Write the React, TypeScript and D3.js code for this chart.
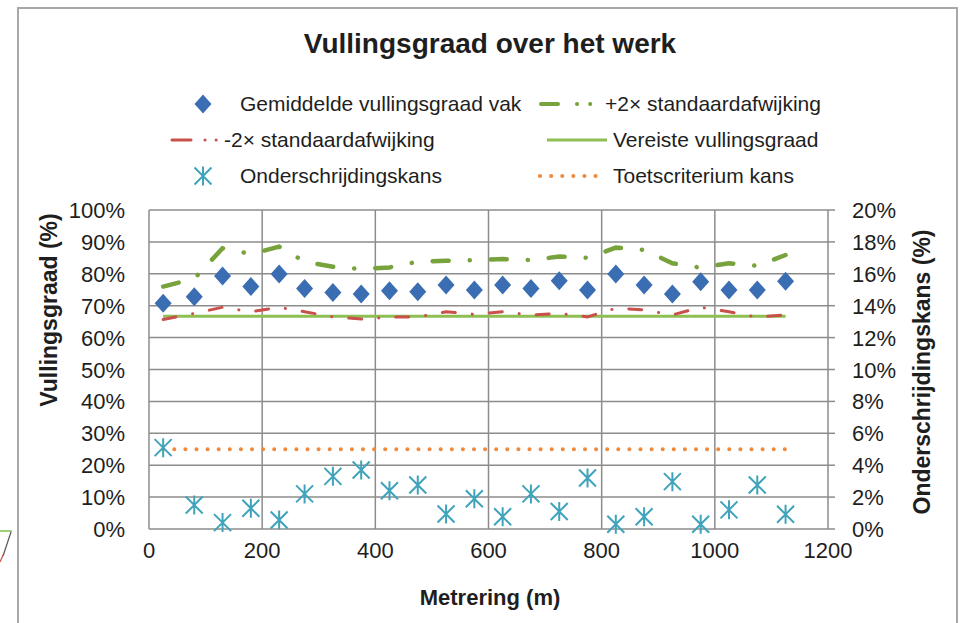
import React from "react";
import * as d3 from "d3";

const metrering = [25, 80, 130, 180, 230, 275, 325, 375, 425, 475, 525, 575, 625, 675, 725, 775, 825, 875, 925, 975, 1025, 1075, 1125];
const gemiddelde = [70.8, 72.8, 79.3, 76.0, 79.9, 75.4, 74.1, 73.7, 74.7, 74.4, 76.5, 74.9, 76.5, 75.4, 77.8, 74.9, 79.9, 76.5, 73.7, 77.5, 74.9, 74.9, 77.7];
const plus2sd = [76.0, 78.5, 88.0, 86.2, 88.5, 83.8, 82.2, 81.5, 82.0, 83.8, 84.1, 84.3, 84.6, 84.3, 85.4, 85.0, 88.2, 87.5, 83.3, 81.9, 83.3, 82.5, 85.9];
const min2sd = [65.7, 67.6, 69.5, 68.1, 69.5, 68.1, 66.5, 65.8, 66.4, 66.5, 68.1, 67.3, 68.1, 67.1, 67.6, 66.5, 69.2, 68.7, 67.1, 69.5, 68.1, 66.4, 67.1];
const vereiste = 66.7;
const onderschrijding = [5.1, 1.5, 0.4, 1.3, 0.56, 2.2, 3.3, 3.7, 2.4, 2.76, 0.94, 1.9, 0.77, 2.2, 1.1, 3.2, 0.3, 0.77, 2.97, 0.3, 1.2, 2.76, 0.92];
const toetscriterium = 5.0;

const xTicks = [0, 200, 400, 600, 800, 1000, 1200];
const yLeftTicks = [0, 10, 20, 30, 40, 50, 60, 70, 80, 90, 100];
const yRightTicks = [0, 2, 4, 6, 8, 10, 12, 14, 16, 18, 20];

const title = "Vullingsgraad over het werk";
const xTitle = "Metrering (m)";
const yLeftTitle = "Vullingsgraad (%)";
const yRightTitle = "Onderschrijdingskans (%)";
const legendLabels = [
  "Gemiddelde vullingsgraad vak",
  "+2\u00d7 standaardafwijking",
  "-2\u00d7 standaardafwijking",
  "Vereiste vullingsgraad",
  "Onderschrijdingskans",
  "Toetscriterium kans",
];

const C_BLUE = "#3b6db3";
const C_GREEN = "#78a23c";
const C_GREEN2 = "#8dbf52";
const C_RED = "#c9504b";
const C_TEAL = "#3fa3bb";
const C_ORANGE = "#f08a3c";
const C_GRID = "#8c8c8c";
const C_TEXT = "#1e1e1e";
const FONT = "'Liberation Sans', Arial, sans-serif";

const L = 149, R = 828, T = 210, B = 529;

function Diamond({ cx, cy }: { cx: number; cy: number }) {
  const w = 8.5, h = 9.5;
  return <path d={`M${cx},${cy - h}L${cx + w},${cy}L${cx},${cy + h}L${cx - w},${cy}Z`} fill={C_BLUE} />;
}

function Star({ cx, cy }: { cx: number; cy: number }) {
  const s = 8.5;
  return (
    <path
      d={`M${cx - s},${cy - s}L${cx + s},${cy + s}M${cx - s},${cy + s}L${cx + s},${cy - s}M${cx},${cy - s - 1}L${cx},${cy + s + 1}`}
      stroke={C_TEAL}
      strokeWidth={2}
      fill="none"
    />
  );
}

export default function App() {
  const x = d3.scaleLinear().domain([0, 1200]).range([L, R]);
  const yL = d3.scaleLinear().domain([0, 100]).range([B, T]);
  const yR = d3.scaleLinear().domain([0, 20]).range([B, T]);

  const lineL = (vals: number[]) =>
    d3.line<number>().x((_, i) => x(metrering[i])).y((v) => yL(v))(vals) || "";

  const x0 = metrering[0];
  const x1 = metrering[metrering.length - 1];

  const dashPlus = "16 21 0.1 21";
  const dashMin = "13 17 0.1 17";

  return (
    <svg
      width={963}
      height={623}
      style={{ position: "absolute", left: 0, top: 0, display: "block", background: "#fff" }}
      fontFamily={FONT}
    >
      <rect x={0} y={0} width={963} height={623} fill="#fff" />
      {/* outer chart border */}
      <path d="M18,640L18,8L957,8L957,640" fill="none" stroke="#a8a8a8" strokeWidth={2} />
      {/* small stray marks at left edge */}
      <path d="M0,531L12,531" stroke="#7fbf4a" strokeWidth={1.5} />
      <path d="M11,532L3,556" stroke="#555" strokeWidth={1.2} />
      <path d="M4,553L0,562" stroke={C_RED} strokeWidth={1.2} />

      {/* title */}
      <text x={490} y={53} textAnchor="middle" fontSize={28} fontWeight="bold" fill={C_TEXT}>
        {title}
      </text>

      {/* legend */}
      <g fontSize={21} fill={C_TEXT}>
        <Diamond cx={203} cy={104} />
        <text x={240} y={111}>{legendLabels[0]}</text>

        <path d="M541,104L600,104" stroke={C_GREEN} strokeWidth={4} strokeLinecap="round" strokeDasharray="17 19 0.1 13 0.1 20" />
        <text x={605} y={111}>{legendLabels[1]}</text>

        <path d="M172,140L224,140" stroke={C_RED} strokeWidth={3} strokeLinecap="round" strokeDasharray="19 14 0.1 11 0.1 20" />
        <text x={224} y={147}>{legendLabels[2]}</text>

        <path d="M547,140L607,140" stroke={C_GREEN2} strokeWidth={3} />
        <text x={613} y={147}>{legendLabels[3]}</text>

        <Star cx={203} cy={176} />
        <text x={240} y={183}>{legendLabels[4]}</text>

        <path d="M540,176L606,176" stroke={C_ORANGE} strokeWidth={4} strokeLinecap="round" strokeDasharray="0.1 11" />
        <text x={613} y={183}>{legendLabels[5]}</text>
      </g>

      {/* grid */}
      <g stroke={C_GRID} strokeWidth={1.5}>
        {yLeftTicks.map((t) => (
          <line key={"h" + t} x1={L} x2={R} y1={yL(t)} y2={yL(t)} />
        ))}
        {xTicks.map((t) => (
          <line key={"v" + t} x1={x(t)} x2={x(t)} y1={T} y2={B} />
        ))}
        {yRightTicks.map((t) => (
          <line key={"rt" + t} x1={R} x2={R + 7} y1={yR(t)} y2={yR(t)} />
        ))}
      </g>

      {/* axis labels */}
      <g fontSize={22} fill={C_TEXT}>
        {yLeftTicks.map((t) => (
          <text key={"yl" + t} x={125} y={yL(t) + 8} textAnchor="end">{t + "%"}</text>
        ))}
        {yRightTicks.map((t) => (
          <text key={"yr" + t} x={852} y={yR(t) + 8}>{t + "%"}</text>
        ))}
        {xTicks.map((t) => (
          <text key={"xl" + t} x={x(t)} y={558} textAnchor="middle">{t}</text>
        ))}
      </g>

      {/* axis titles */}
      <text x={490} y={605} textAnchor="middle" fontSize={22} fontWeight="bold" fill={C_TEXT}>
        {xTitle}
      </text>
      <text
        transform={`translate(57,310) rotate(-90)`}
        textAnchor="middle"
        fontSize={23}
        fontWeight="bold"
        fill={C_TEXT}
      >
        {yLeftTitle}
      </text>
      <text
        transform={`translate(930,372) rotate(-90)`}
        textAnchor="middle"
        fontSize={23}
        fontWeight="bold"
        fill={C_TEXT}
      >
        {yRightTitle}
      </text>

      {/* series */}
      <path d={`M${x(x0)},${yL(vereiste)}L${x(x1)},${yL(vereiste)}`} stroke={C_GREEN2} strokeWidth={3} />
      <path d={lineL(min2sd)} fill="none" stroke={C_RED} strokeWidth={3} strokeLinecap="round" strokeDasharray={dashMin} />
      <path d={lineL(plus2sd)} fill="none" stroke={C_GREEN} strokeWidth={4.5} strokeLinecap="round" strokeDasharray={dashPlus} />
      <path
        d={`M${x(x0)},${yR(toetscriterium)}L${x(x1)},${yR(toetscriterium)}`}
        stroke={C_ORANGE}
        strokeWidth={4}
        strokeLinecap="round"
        strokeDasharray="0.1 11"
      />
      {gemiddelde.map((v, i) => (
        <Diamond key={"d" + i} cx={x(metrering[i])} cy={yL(v)} />
      ))}
      {onderschrijding.map((v, i) => (
        <Star key={"s" + i} cx={x(metrering[i])} cy={yR(v)} />
      ))}
    </svg>
  );
}
